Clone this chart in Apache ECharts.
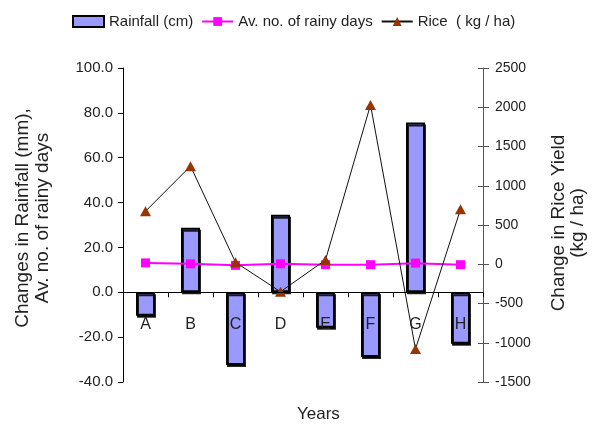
<!DOCTYPE html>
<html>
<head>
<meta charset="utf-8">
<script src="https://cdn.jsdelivr.net/npm/echarts@6/dist/echarts.min.js"></script>
<style>
  html, body { margin: 0; padding: 0; background: #fff; }
  #chart { width: 595px; height: 429px; }
</style>
</head>
<body>
<div id="chart"></div>
<script>
// Study sites
const categories = ['A', 'B', 'C', 'D', 'E', 'F', 'G', 'H'];
// Change in rainfall (left axis)
const rainfall = [-10.5, 28.8, -32.4, 34.6, -15.8, -28.8, 75.7, -23.0];
// Average number of rainy days (left axis)
const rainyDays = [13.1, 12.7, 12.0, 12.7, 12.3, 12.3, 13.0, 12.3];
// Change in rice yield, kg/ha (right axis)
const riceYield = [675, 1250, 25, -350, 55, 2030, -1080, 700];

const leftTicks = { min: -40, max: 100, interval: 20 };
const rightTicks = { min: -1500, max: 2500, interval: 500 };

const sans = "'Liberation Sans', Arial, sans-serif";

const gridTop = 68, gridBottom = 47, chartH = 429;
const plotH = chartH - gridTop - gridBottom;
// shift the category axis up so it sits on the left axis' zero line
const zeroShift = -plotH * (0 - leftTicks.min) / (leftTicks.max - leftTicks.min);

const chart = echarts.init(document.getElementById('chart'), null, { renderer: 'canvas' });

chart.setOption({
  animation: false,
  backgroundColor: '#ffffff',
  textStyle: { fontFamily: sans, color: '#222' },
  grid: { left: 123, right: 107, top: gridTop, bottom: gridBottom, containLabel: false },
  legend: {
    left: 67,
    top: 9,
    itemWidth: 31,
    itemHeight: 11,
    itemGap: 8,
    textStyle: { fontFamily: sans, fontSize: 15, color: '#222' },
    data: [
      { name: 'Rainfall (cm)', icon: 'rect' },
      { name: 'Av. no. of rainy days' },
      { name: 'Rice  ( kg / ha)' }
    ]
  },
  xAxis: {
    type: 'category',
    data: categories,
    z: 5,
    offset: zeroShift,
    axisLine: { onZero: false, lineStyle: { color: '#000', width: 1 } },
    axisTick: { show: true, length: 5, lineStyle: { color: '#000' } },
    axisLabel: { margin: 24, fontFamily: sans, fontSize: 16, color: '#222' },
    splitLine: { show: false }
  },
  yAxis: [
    {
      type: 'value',
      position: 'left',
      min: leftTicks.min, max: leftTicks.max, interval: leftTicks.interval,
      name: 'Changes in Rainfall (mm),\nAv. no. of rainy days',
      nameLocation: 'middle',
      nameRotate: 90,
      nameGap: 70,
      nameTextStyle: { fontFamily: sans, fontSize: 19, color: '#222', lineHeight: 20,
                       padding: [0, 0, 0, 14] },
      axisLine: { show: true, onZero: false, lineStyle: { color: '#000' } },
      axisTick: { show: true, length: 5, lineStyle: { color: '#000' } },
      axisLabel: { margin: 10, fontFamily: sans, fontSize: 15, color: '#222',
                   formatter: v => v.toFixed(1) },
      splitLine: { show: false }
    },
    {
      type: 'value',
      position: 'right',
      min: rightTicks.min, max: rightTicks.max, interval: rightTicks.interval,
      name: 'Change in Rice Yield\n(kg / ha)',
      nameLocation: 'middle',
      nameRotate: 90,
      nameGap: 66,
      nameTextStyle: { fontFamily: sans, fontSize: 19, color: '#222', lineHeight: 19,
                       padding: [0, 0, 0, 4] },
      axisLine: { show: true, onZero: false, lineStyle: { color: '#555' } },
      axisTick: { show: true, length: 6, lineStyle: { color: '#555' } },
      axisLabel: { margin: 12, fontFamily: sans, fontSize: 14, color: '#222',
                   formatter: v => String(v) },
      splitLine: { show: false }
    },
    {
      // inner half of the crossing ticks on the right axis
      type: 'value',
      position: 'right',
      min: rightTicks.min, max: rightTicks.max, interval: rightTicks.interval,
      axisLine: { show: false, onZero: false },
      axisTick: { show: true, inside: true, length: 5, lineStyle: { color: '#555' } },
      axisLabel: { show: false },
      splitLine: { show: false }
    }
  ],
  series: [
    {
      name: 'Rainfall (cm)',
      type: 'bar',
      yAxisIndex: 0,
      data: rainfall,
      barWidth: 19,
      z: 2,
      itemStyle: {
        color: '#9999ff',
        borderColor: '#000',
        borderWidth: 2,
        shadowColor: 'rgba(0,0,0,0.85)',
        shadowOffsetX: 1,
        shadowOffsetY: 2,
        shadowBlur: 0
      }
    },
    {
      name: 'Av. no. of rainy days',
      type: 'line',
      yAxisIndex: 0,
      data: rainyDays,
      z: 3,
      symbol: 'rect',
      symbolSize: 9,
      lineStyle: { color: '#ff00ff', width: 2 },
      itemStyle: { color: '#ff00ff' }
    },
    {
      name: 'Rice  ( kg / ha)',
      type: 'line',
      yAxisIndex: 1,
      data: riceYield,
      z: 4,
      symbol: 'triangle',
      symbolSize: [11, 10],
      lineStyle: { color: '#111', width: 1 },
      itemStyle: { color: '#993300' }
    }
  ],
  graphic: [
    {
      type: 'text',
      left: 297,
      top: 406,
      style: { text: 'Years', font: "17px " + sans, fill: '#222' }
    }
  ]
});
</script>
</body>
</html>
